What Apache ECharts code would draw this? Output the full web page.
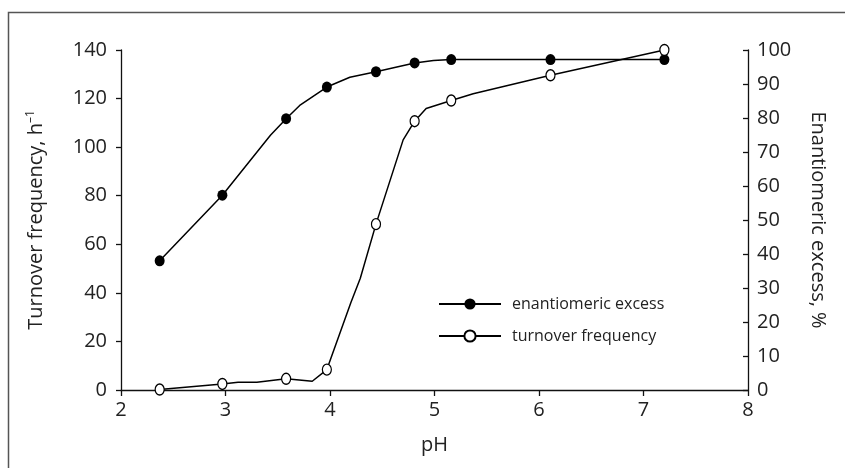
<!DOCTYPE html>
<html>
<head>
<meta charset="utf-8">
<script src="https://cdn.jsdelivr.net/npm/echarts@6/dist/echarts.min.js"></script>
<style>html,body{margin:0;padding:0;background:#fff}#c{width:845px;height:468px}</style>
</head>
<body>
<div id="c"></div>
<script>
// Measured points (pH) shared by both series
const phValues = [2.37, 2.97, 3.58, 3.97, 4.44, 4.81, 5.16, 6.11, 7.2];
// Enantiomeric excess, % (right axis)
const eeValues = [38, 57.3, 79.8, 89.1, 93.6, 96.2, 97.2, 97.2, 97.2];
// Turnover frequency, h-1 (left axis)
const tofValues = [0.2, 2.5, 4.6, 8.4, 68.3, 110.7, 119.2, 129.6, 140];
// Extra points of the drawn curves (no marker)
const eeCurvePh = [3.43, 3.71, 4.19, 4.64, 4.99];
const eeCurveVal = [74.9, 83.7, 92.0, 95.0, 96.9];
const tofCurvePh = [3.12, 3.30, 3.83, 4.20, 4.29, 4.70, 4.92, 5.37];
const tofCurveVal = [3.2, 3.2, 3.6, 36, 46, 103, 115.9, 122];
const xTicks = [2, 8, 1];
const leftTicks = [0, 140, 20];
const rightTicks = [0, 100, 10];

function build(px, pv, cx, cv) {
  const pts = [];
  px.forEach((x, i) => pts.push({ value: [x, pv[i]] }));
  cx.forEach((x, i) => pts.push({ value: [x, cv[i]], symbol: 'none' }));
  pts.sort((a, b) => a.value[0] - b.value[0]);
  return pts;
}

const FONT = 'Open Sans';
const TXT = '#222';
const chart = echarts.init(document.getElementById('c'), null, { renderer: 'canvas' });
chart.setOption({
  animation: false,
  backgroundColor: '#fff',
  textStyle: { fontFamily: FONT },
  graphic: [{
    type: 'rect', silent: true,
    shape: { x: 8.5, y: 12.5, width: 1000, height: 1000 },
    style: { fill: 'none', stroke: '#555', lineWidth: 1.5 }
  }],
  grid: { left: 121, right: 97, top: 50, bottom: 78, outerBoundsMode: 'none' },
  legend: {
    orient: 'vertical', left: 438, top: 294, padding: 0,
    itemWidth: 62, itemHeight: 14, itemGap: 12,
    textStyle: { fontFamily: FONT, fontSize: 16, color: TXT, lineHeight: 20, padding: [0, 0, 0, 6] },
    data: ['enantiomeric excess', 'turnover frequency']
  },
  xAxis: {
    type: 'value', min: xTicks[0], max: xTicks[1], interval: xTicks[2],
    name: 'pH', nameLocation: 'middle', nameGap: 45,
    nameTextStyle: { fontFamily: FONT, fontSize: 20, color: TXT },
    axisLine: { lineStyle: { color: '#111', width: 1.3 } },
    axisTick: { length: 6, lineStyle: { color: '#111', width: 1.3 } },
    axisLabel: { fontFamily: FONT, fontSize: 20, color: TXT, margin: 10 },
    splitLine: { show: false }
  },
  yAxis: [{
    type: 'value', min: leftTicks[0], max: leftTicks[1], interval: leftTicks[2], position: 'left',
    name: 'Turnover frequency, h{sup|–1}', nameLocation: 'middle', nameGap: 74, nameRotate: 90,
    nameTextStyle: {
      fontFamily: FONT, fontSize: 20, color: TXT,
      rich: { sup: { fontFamily: FONT, fontSize: 12, color: TXT, verticalAlign: 'top', padding: [0, 0, 10, 0] } }
    },
    axisLine: { show: true, lineStyle: { color: '#111', width: 1.3 } },
    axisTick: { show: true, length: 5, lineStyle: { color: '#111', width: 1.3 } },
    axisLabel: { fontFamily: FONT, fontSize: 20, color: TXT, margin: 14 },
    splitLine: { show: false }
  }, {
    type: 'value', min: rightTicks[0], max: rightTicks[1], interval: rightTicks[2], position: 'right',
    name: 'Enantiomeric excess, %', nameLocation: 'middle', nameGap: 60, nameRotate: -90,
    nameTextStyle: { fontFamily: FONT, fontSize: 20, color: TXT },
    axisLine: { show: true, lineStyle: { color: '#111', width: 1.3 } },
    axisTick: { show: true, inside: true, length: 5, lineStyle: { color: '#111', width: 1.3 } },
    axisLabel: { fontFamily: FONT, fontSize: 20, color: TXT, margin: 9 },
    splitLine: { show: false }
  }],
  series: [{
    name: 'enantiomeric excess', type: 'line', yAxisIndex: 1,
    data: build(phValues, eeValues, eeCurvePh, eeCurveVal),
    symbol: 'circle', symbolSize: [10, 11], showAllSymbol: true,
    lineStyle: { color: '#000', width: 1.5 },
    itemStyle: { color: '#000', borderColor: '#000', borderWidth: 0 },
    z: 3
  }, {
    name: 'turnover frequency', type: 'line', yAxisIndex: 0,
    data: build(phValues, tofValues, tofCurvePh, tofCurveVal),
    symbol: 'circle', symbolSize: [9, 11], showAllSymbol: true,
    lineStyle: { color: '#000', width: 1.5 },
    itemStyle: { color: '#fff', borderColor: '#000', borderWidth: 1.3 },
    z: 3
  }]
});
</script>
</body>
</html>
